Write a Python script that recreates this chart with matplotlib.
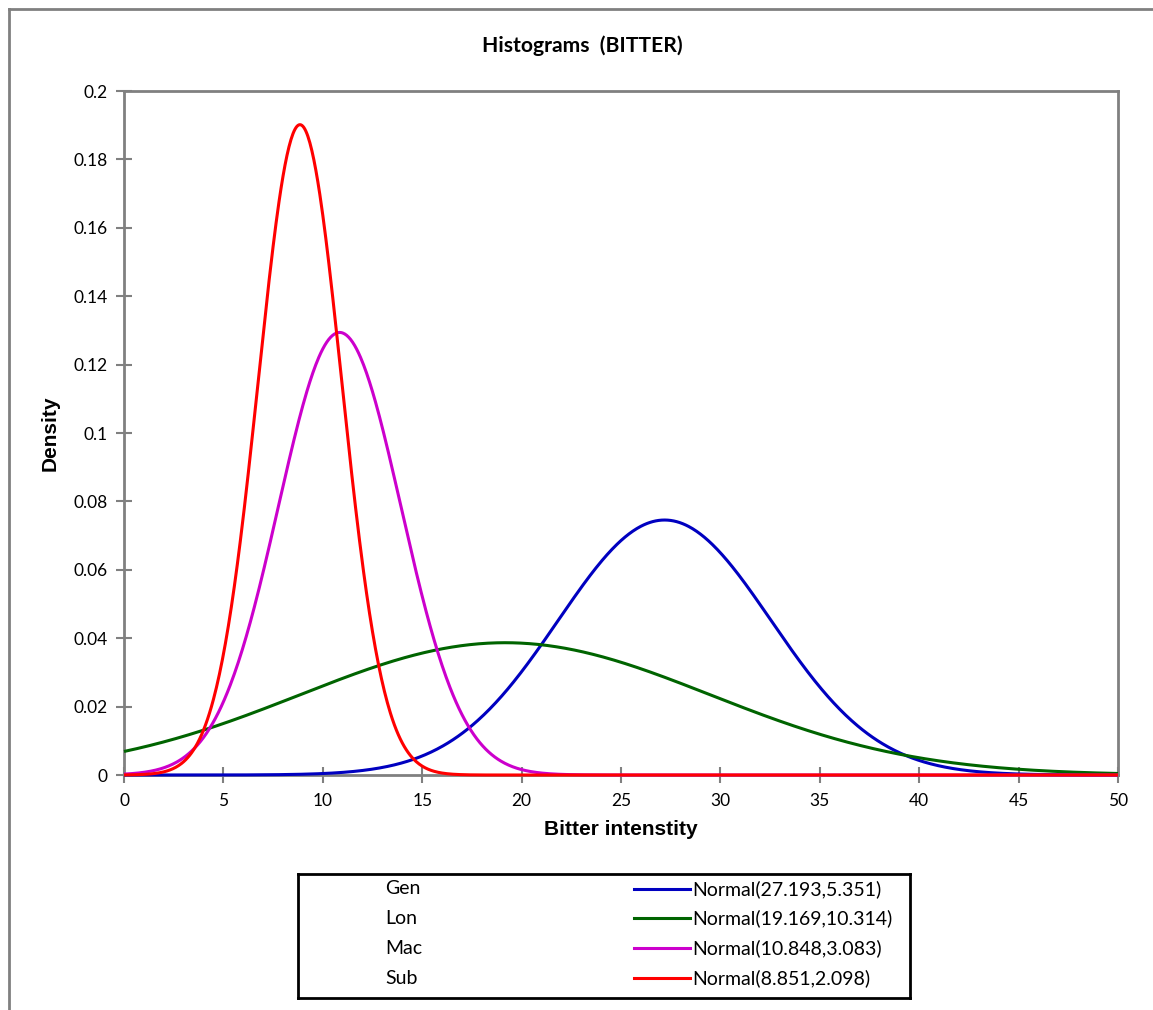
import numpy as np
import matplotlib
matplotlib.use("Agg")
import matplotlib.pyplot as plt
from matplotlib.lines import Line2D

# Data (distribution parameters as given in the legend)
groups = ["Gen", "Lon", "Mac", "Sub"]
means = [27.193, 19.169, 10.848, 8.851]
sds = [5.351, 10.314, 3.083, 2.098]
colors = ["#0000C0", "#006400", "#CC00CC", "#FF0000"]
xticks = [0, 5, 10, 15, 20, 25, 30, 35, 40, 45, 50]
yticks = [0, 0.02, 0.04, 0.06, 0.08, 0.1, 0.12, 0.14, 0.16, 0.18, 0.2]
ytick_labels = ["0", "0.02", "0.04", "0.06", "0.08", "0.1", "0.12", "0.14", "0.16", "0.18", "0.2"]

W, H = 1153, 1010
fig = plt.figure(figsize=(W / 100, H / 100), dpi=100)

def fx(px):
    return px / W

def fy(py):
    return 1 - py / H

tickfont = ["Lato", "DejaVu Sans"]
boldfont = ["Liberation Sans", "DejaVu Sans"]

# outer chart border (left and top visible)
fig.add_artist(Line2D([fx(8.5), fx(8.5)], [fy(8.5), fy(1012)], color="#808080", lw=2.0))
fig.add_artist(Line2D([fx(8.5), fx(1160)], [fy(8.5), fy(8.5)], color="#808080", lw=2.0))

L, R, T, B = 124, 1118, 91, 775
ax = fig.add_axes([fx(L), fy(B), fx(R) - fx(L), fy(T) - fy(B)])

x = np.linspace(0, 50, 1001)
for m, s, c in zip(means, sds, colors):
    y = np.exp(-0.5 * ((x - m) / s) ** 2) / (s * np.sqrt(2 * np.pi))
    ax.plot(x, y, color=c, lw=2.2, solid_capstyle="butt", clip_on=False, zorder=3)

ax.set_xlim(0, 50)
ax.set_ylim(0, 0.2)
ax.set_xticks(xticks)
ax.set_xticklabels([str(v) for v in xticks], fontfamily=tickfont, fontsize=12.5)
ax.set_yticks(yticks)
ax.set_yticklabels(ytick_labels, fontfamily=tickfont, fontsize=12.5)
for sp in ax.spines.values():
    sp.set_color("#808080")
    sp.set_linewidth(2.0)
ax.tick_params(axis="both", direction="inout", length=12, width=1.5, color="#808080",
               labelcolor="black")
ax.tick_params(axis="x", pad=7)
ax.tick_params(axis="y", pad=6)

ax.set_xlabel("Bitter intenstity", fontfamily=boldfont, fontweight="bold", fontsize=15, labelpad=8)
ax.set_ylabel("Density", fontfamily=boldfont, fontweight="bold", fontsize=15, labelpad=10)

fig.text(fx(582), fy(46), "Histograms  (BITTER)", fontfamily=tickfont, fontweight="bold",
         fontsize=15.2, ha="center", va="center")

# legend box
lx0, lx1, ly0, ly1 = 298, 910, 874, 998
lax = fig.add_axes([fx(lx0), fy(ly1), fx(lx1) - fx(lx0), fy(ly0) - fy(ly1)])
lax.set_xlim(lx0, lx1)
lax.set_ylim(ly1, ly0)
lax.set_xticks([])
lax.set_yticks([])
for sp in lax.spines.values():
    sp.set_color("black")
    sp.set_linewidth(2.0)
rows_y = [889, 918, 948, 978]
for g, m, s, c, yy in zip(groups, means, sds, colors, rows_y):
    lax.text(385, yy, g, fontfamily=tickfont, fontsize=14, va="center", ha="left")
    lax.plot([634, 690], [yy, yy], color=c, lw=2.2)
    lax.text(692, yy, f"Normal({m},{s})", fontfamily=tickfont, fontsize=14, va="center", ha="left")

fig.savefig("out.png", dpi=100, facecolor="white")
